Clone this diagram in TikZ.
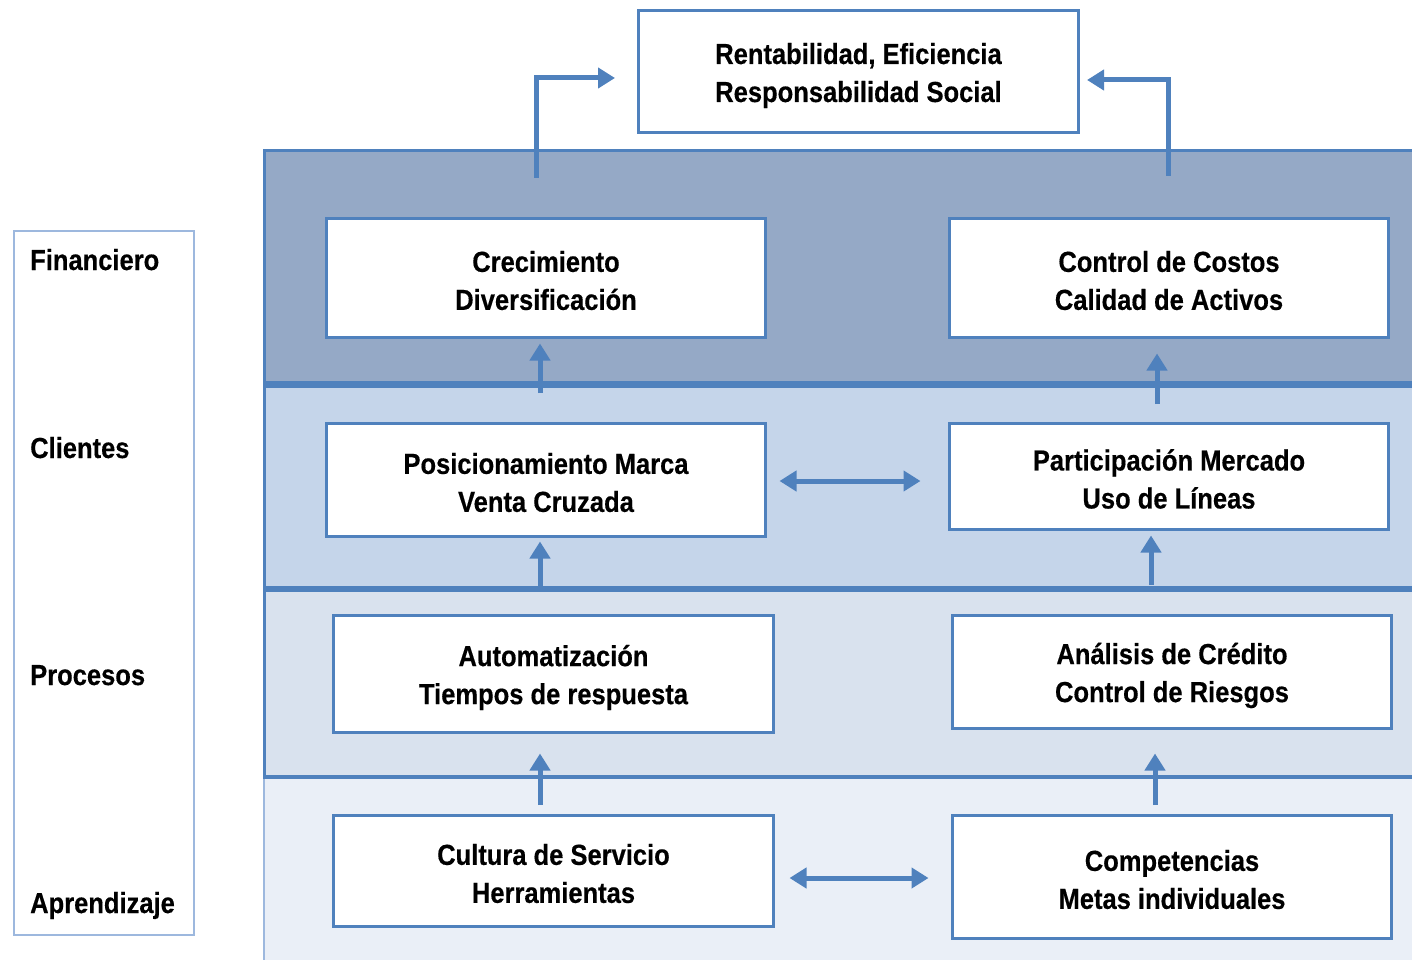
\documentclass[tikz,border=0pt]{standalone}
\usepackage{fontspec}
\setmainfont{Liberation Sans}[FakeStretch=0.88,BoldFeatures={FakeBold=0.4}]
\usetikzlibrary{arrows.meta}
\definecolor{bblue}{HTML}{4F81BD}
\definecolor{bandA}{HTML}{95A9C6}
\definecolor{bandB}{HTML}{C5D5EA}
\definecolor{bandC}{HTML}{D9E2EE}
\definecolor{bandD}{HTML}{EAEFF7}
\definecolor{lblue}{HTML}{9DB8DE}
\begin{document}
\begin{tikzpicture}[x=1pt,y=-1pt,
  txt/.style={align=center,inner sep=0pt,yshift=-2.5pt,font=\bfseries\fontsize{29}{38}\selectfont},
  box/.style={draw=bblue,line width=3pt,fill=white,inner sep=0pt},
  lab/.style={anchor=base west,inner sep=0pt,font=\bfseries\fontsize{29}{37}\selectfont},
  arr/.style={draw=bblue,line width=5pt,-{Triangle[length=17pt,width=20pt]}},
  darr/.style={draw=bblue,line width=5pt,{Triangle[length=17pt,width=20pt]}-{Triangle[length=17pt,width=20pt]}},
  band/.style={draw=bblue,line width=3.5pt}
]
\useasboundingbox (0,0) rectangle (1412,960);
\clip (0,0) rectangle (1412,960);

% bands
\fill[bandD] (263,777) rectangle (1430,975);
\draw[lblue,line width=2pt] (264,777) -- (264,975);
\filldraw[band,fill=bandC] (264.5,590.5) rectangle (1430,777);
\draw[bblue,line width=2.5pt] (263,777) -- (1430,777);
\filldraw[band,fill=bandB] (264.5,386) rectangle (1430,587.5);
\filldraw[band,fill=bandA,line width=3pt] (264.5,150.5) rectangle (1430,382);
\draw[bblue,line width=3.5pt] (263,382.5) -- (1430,382.5);

% left frame
\draw[lblue,line width=2pt] (14,231) rectangle (194,935);
\node[lab] (lf) at (30,270) {Financiero};
\node[lab] (lc) at (30,458) {Clientes};
\node[lab] (lp) at (30,685) {Procesos};
\node[lab] (la) at (30,913) {Aprendizaje};

% boxes
\node[box,minimum width=440pt,minimum height=122pt,
  label={[txt,yshift=-1.5pt]center:Rentabilidad, Eficiencia\\Responsabilidad Social}] (top) at (858.5,71.5) {};
\node[box,minimum width=439pt,minimum height=119pt,
  label={[txt]center:Crecimiento\\Diversificación}] (crec) at (546,278) {};
\node[box,minimum width=439pt,minimum height=119pt,
  label={[txt]center:Control de Costos\\Calidad de Activos}] (ctrl) at (1169,278) {};
\node[box,minimum width=439pt,minimum height=113pt,
  label={[txt]center:Posicionamiento Marca\\Venta Cruzada}] (posi) at (546,480) {};
\node[box,minimum width=439pt,minimum height=106pt,
  label={[txt]center:Participación Mercado\\Uso de Líneas}] (part) at (1169,476.5) {};
\node[box,minimum width=440pt,minimum height=117pt,
  label={[txt,yshift=-1pt]center:Automatización\\Tiempos de respuesta}] (auto) at (553.5,674) {};
\node[box,minimum width=439pt,minimum height=113pt,
  label={[txt,yshift=-1pt]center:Análisis de Crédito\\Control de Riesgos}] (anal) at (1172,672) {};
\node[box,minimum width=440pt,minimum height=111pt,
  label={[txt]center:Cultura de Servicio\\Herramientas}] (cult) at (553.5,871) {};
\node[box,minimum width=439pt,minimum height=123pt,
  label={[txt]center:Competencias\\Metas individuales}] (comp) at (1172,877) {};

% elbow arrows to top box
\coordinate (e1) at (536,178);
\coordinate (h1) at (0,78);
\coordinate (e2) at (1168,176);
\coordinate (h2) at (0,80);
\draw[arr,shorten >=22pt] (e1) |- (top.west |- h1);
\draw[arr,shorten >=7pt] (e2) |- (top.east |- h2);

% vertical arrows
\coordinate (v1) at (540,393);
\coordinate (v2) at (1157,404);
\coordinate (v3) at (540,587);
\coordinate (v4) at (1151,585);
\coordinate (v5) at (540,805);
\coordinate (v6) at (1155,805);
\draw[arr,shorten >=4.5pt] (v1) -- (v1 |- crec.south);
\draw[arr,shorten >=14.5pt] (v2) -- (v2 |- ctrl.south);
\draw[arr,shorten >=3.5pt] (v3) -- (v3 |- posi.south);
\draw[arr,shorten >=4.5pt] (v4) -- (v4 |- part.south);
\draw[arr,shorten >=19.5pt] (v5) -- (v5 |- auto.south);
\draw[arr,shorten >=23.5pt] (v6) -- (v6 |- anal.south);

% double arrows
\coordinate (d1) at (0,481);
\coordinate (d2) at (0,878);
\draw[darr,shorten <=12.5pt,shorten >=27.5pt] (posi.east |- d1) -- (part.west |- d1);
\draw[darr,shorten <=14.5pt,shorten >=22.5pt] (cult.east |- d2) -- (comp.west |- d2);
\end{tikzpicture}
\end{document}
